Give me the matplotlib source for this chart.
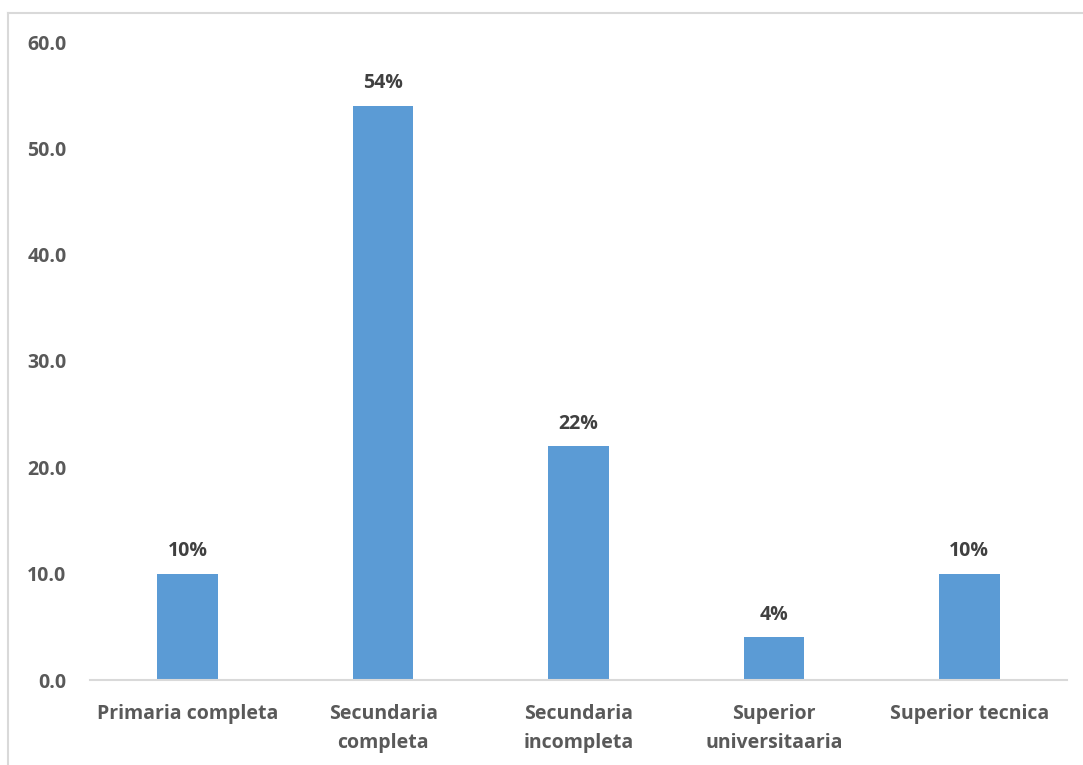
import matplotlib.pyplot as plt
from matplotlib.lines import Line2D

categories = ["Primaria completa", "Secundaria\ncompleta", "Secundaria\nincompleta",
              "Superior\nuniversitaaria", "Superior tecnica"]
values = [10, 54, 22, 4, 10]
labels = ["10%", "54%", "22%", "4%", "10%"]
yticks = [0, 10, 20, 30, 40, 50, 60]

plt.rcParams['font.family'] = ['Open Sans', 'DejaVu Sans']
plt.rcParams['font.weight'] = 'bold'

fig = plt.figure(figsize=(10.83, 7.65), dpi=100)
ax = fig.add_axes([90/1083, 85/765, 977/1083, 638/765])

x = range(len(categories))
bars = ax.bar(x, values, width=0.31, color="#5B9BD5")

for b, lab in zip(bars, labels):
    ax.annotate(lab, (b.get_x() + b.get_width()/2, b.get_height()),
                xytext=(0, 9), textcoords="offset points",
                ha="center", va="bottom", fontsize=14, fontweight="bold",
                color="#404040")

ax.set_xlim(-0.5, len(categories) - 0.5)
ax.set_ylim(0, 60)
ax.set_yticks(yticks)
ax.set_yticklabels([f"{v:.1f}" for v in yticks])
ax.set_xticks(list(x))
ax.set_xticklabels(categories, linespacing=1.62)

for s in ["top", "right", "left"]:
    ax.spines[s].set_visible(False)
ax.spines["bottom"].set_color("#d9d9d9")
ax.spines["bottom"].set_linewidth(1.5)

ax.tick_params(axis="y", length=0, pad=17, labelsize=14, labelcolor="#595959")
ax.tick_params(axis="x", length=0, pad=17, labelsize=14, labelcolor="#595959")
for t in ax.get_xticklabels() + ax.get_yticklabels():
    t.set_fontweight("bold")

# chart border (cropped on the right and bottom)
fig.add_artist(Line2D([8/1083, 1], [1 - 13/765, 1 - 13/765], color="#d9d9d9", lw=1.5))
fig.add_artist(Line2D([8/1083, 8/1083], [0, 1 - 13/765], color="#d9d9d9", lw=1.5))

fig.savefig("out.png", dpi=100)
